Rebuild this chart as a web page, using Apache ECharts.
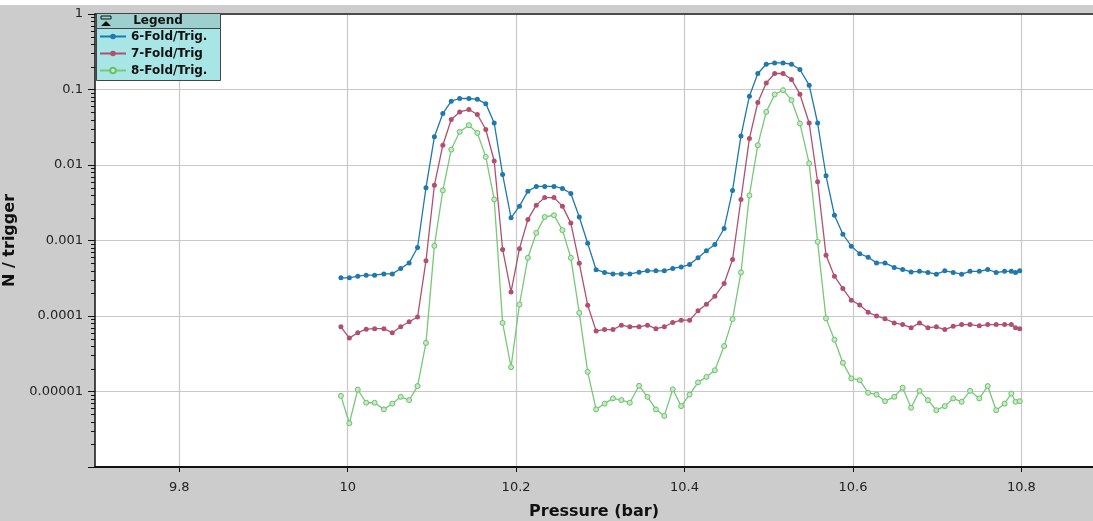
<!DOCTYPE html>
<html>
<head>
<meta charset="utf-8">
<script src="https://cdn.jsdelivr.net/npm/echarts@6/dist/echarts.min.js"></script>
<style>html,body{margin:0;padding:0;background:#cccccc;}#c{width:1093px;height:521px;}</style>
</head>
<body>
<div id="c"></div>
<script>
// Pressure (bar) of each measurement
const pressure = [9.992,10.002,10.012,10.022,10.032,10.043,10.053,10.063,10.073,10.083,
10.093,10.103,10.113,10.123,10.133,10.144,10.154,10.164,10.174,10.184,
10.194,10.204,10.214,10.224,10.234,10.245,10.255,10.265,10.275,10.285,
10.295,10.305,10.315,10.325,10.335,10.346,10.356,10.366,10.376,10.386,
10.396,10.406,10.416,10.426,10.436,10.447,10.457,10.467,10.477,10.487,
10.497,10.507,10.517,10.527,10.537,10.548,10.558,10.568,10.578,10.588,
10.598,10.608,10.618,10.628,10.638,10.649,10.659,10.669,10.679,10.689,
10.699,10.709,10.719,10.729,10.739,10.750,10.760,10.770,10.780,10.788,
10.793,10.798];

const fold6 = [3.2e-4,3.2e-4,3.37e-4,3.47e-4,3.47e-4,3.61e-4,3.61e-4,4.26e-4,5.05e-4,8.07e-4,
5.0e-3,0.0236,0.048,0.070,0.076,0.076,0.074,0.065,0.036,0.0075,
0.0020,0.00285,0.0045,0.0052,0.0052,0.0052,0.0049,0.0042,0.00205,9.2e-4,
4.1e-4,3.77e-4,3.61e-4,3.61e-4,3.61e-4,3.8e-4,3.96e-4,3.96e-4,3.96e-4,4.26e-4,
4.47e-4,4.8e-4,5.9e-4,7.3e-4,8.85e-4,1.44e-3,4.6e-3,0.0243,0.0815,0.163,
0.216,0.225,0.225,0.216,0.184,0.114,0.036,0.0072,0.00216,0.00121,
8.4e-4,6.7e-4,6.0e-4,5.05e-4,5.05e-4,4.4e-4,4.13e-4,3.84e-4,3.9e-4,3.77e-4,
3.58e-4,3.96e-4,3.77e-4,3.58e-4,3.9e-4,3.9e-4,4.13e-4,3.77e-4,3.9e-4,3.9e-4,
3.77e-4,3.96e-4];

const fold7 = [7.2e-5,5.1e-5,6.0e-5,6.7e-5,6.8e-5,6.8e-5,6.0e-5,7.2e-5,8.4e-5,9.7e-5,
5.4e-4,5.4e-3,0.0183,0.040,0.0505,0.0543,0.0467,0.0295,0.0113,7.6e-4,
2.08e-4,7.8e-4,1.9e-3,2.94e-3,3.7e-3,3.7e-3,2.85e-3,1.7e-3,5.0e-4,1.39e-4,
6.35e-5,6.6e-5,6.6e-5,7.55e-5,7.2e-5,7.2e-5,7.55e-5,6.8e-5,7.2e-5,8.2e-5,
8.8e-5,8.8e-5,1.17e-4,1.43e-4,1.83e-4,2.69e-4,5.6e-4,3.49e-3,0.0224,0.0673,
0.122,0.163,0.163,0.136,0.0867,0.036,0.006,6.4e-4,3.37e-4,2.31e-4,
1.62e-4,1.4e-4,1.12e-4,1.0e-4,9.2e-5,8.1e-5,7.7e-5,7.0e-5,8.1e-5,7.0e-5,
7.2e-5,6.6e-5,7.3e-5,7.7e-5,7.7e-5,7.4e-5,7.7e-5,7.7e-5,7.7e-5,7.7e-5,
7.0e-5,6.8e-5];

const fold8 = [8.75e-6,3.8e-6,1.06e-5,7.1e-6,7.1e-6,5.8e-6,6.9e-6,8.5e-6,7.7e-6,1.18e-5,
4.4e-5,8.5e-4,4.6e-3,0.016,0.0275,0.0337,0.0266,0.0128,3.5e-3,8.1e-5,
2.1e-5,1.42e-4,5.9e-4,1.26e-3,2.05e-3,2.16e-3,1.37e-3,5.9e-4,1.1e-4,1.82e-5,
5.8e-6,6.9e-6,8.1e-6,7.7e-6,7.1e-6,1.19e-5,8.5e-6,5.8e-6,4.75e-6,1.07e-5,
6.4e-6,9.1e-6,1.32e-5,1.56e-5,1.91e-5,4.0e-5,9.1e-5,3.77e-4,3.95e-3,0.0183,
0.0505,0.0859,0.098,0.0722,0.0355,0.0105,9.6e-4,9.3e-5,4.85e-5,2.4e-5,
1.49e-5,1.41e-5,9.6e-6,9.1e-6,7.45e-6,8.5e-6,1.12e-5,6.1e-6,1.02e-5,7.7e-6,
5.65e-6,6.4e-6,8.1e-6,7.3e-6,1.02e-5,8.1e-6,1.18e-5,5.65e-6,6.9e-6,9.4e-6,
7.3e-6,7.45e-6];

const seriesNames = ['6-Fold/Trig.', '7-Fold/Trig', '8-Fold/Trig.'];
const xTicks = [9.8, 10, 10.2, 10.4, 10.6, 10.8];
const yTicks = [1e-6, 1e-5, 1e-4, 1e-3, 1e-2, 1e-1, 1];

// log minor ticks (2..9 in every decade)
const minorTicks = [];
for (let e = -6; e < 0; e++) for (let m = 2; m <= 9; m++) minorTicks.push(m * Math.pow(10, e));

const X_MIN = 9.7, X_MAX = 10.885;
const FONT = 'DejaVu Sans';

const chart = echarts.init(document.getElementById('c'), null, {renderer: 'canvas'});

function mk(vals) { return pressure.map((p, i) => [p, vals[i]]); }

const baseGraphic = [
  {type: 'rect', shape: {x: 0, y: 0, width: 1093, height: 5}, style: {fill: '#ffffff'}, z: 1},
  {type: 'rect', shape: {x: 96.5, y: 13.5, width: 124, height: 67}, style: {fill: 'rgba(153,226,226,0.85)', stroke: '#444', lineWidth: 1}, z: 5},
  {type: 'rect', shape: {x: 96.5, y: 13.5, width: 124, height: 15}, style: {fill: '#9dcfcf', stroke: '#444', lineWidth: 1}, z: 5},
  {type: 'rect', shape: {x: 101, y: 16, width: 10, height: 3}, style: {fill: 'none', stroke: '#111', lineWidth: 1}, z: 6},
  {type: 'polygon', shape: {points: [[101, 26], [111, 26], [106, 21]]}, style: {fill: '#111'}, z: 6},
  {type: 'text', style: {x: 158, y: 21, text: 'Legend', fill: '#111', font: 'bold 12px "DejaVu Sans"', align: 'center', verticalAlign: 'middle'}, z: 6}
];

const option = {
  animation: false,
  backgroundColor: '#cccccc',
  grid: {left: 95, right: 0, top: 14, bottom: 54, show: true, backgroundColor: '#ffffff', borderWidth: 0,
         outerBoundsMode: 'none', containLabel: false},
  legend: {
    data: seriesNames, orient: 'vertical', left: 99, top: 30, padding: 0, itemGap: 4,
    itemWidth: 26, itemHeight: 7, z: 6,
    textStyle: {fontFamily: FONT, fontWeight: 'bold', fontSize: 12, color: '#111', lineHeight: 13}
  },
  xAxis: [{
    type: 'value', min: X_MIN, max: X_MAX,
    name: 'Pressure (bar)', nameLocation: 'middle', nameGap: 37,
    nameTextStyle: {fontFamily: FONT, fontWeight: 'bold', fontSize: 16, color: '#111'},
    axisLine: {show: true, onZero: false, lineStyle: {color: '#111', width: 2}},
    axisTick: {show: true, length: 5, customValues: xTicks, lineStyle: {color: '#111'}},
    axisLabel: {customValues: xTicks, margin: 14, fontFamily: FONT, fontSize: 13, color: '#222',
      formatter: v => String(Math.round(v * 10) / 10)},
    splitLine: {show: true, lineStyle: {color: '#c8c8c8', width: 1.2}}
  }, {
    type: 'value', min: X_MIN, max: X_MAX, position: 'top',
    axisLine: {show: true, onZero: false, lineStyle: {color: '#222', width: 1.5}},
    axisTick: {show: false}, axisLabel: {show: false}, splitLine: {show: false}
  }],
  yAxis: {
    type: 'log', logBase: 10, min: 1e-6, max: 1,
    name: 'N / trigger', nameLocation: 'middle', nameGap: 75,
    nameTextStyle: {fontFamily: FONT, fontWeight: 'bold', fontSize: 16, color: '#111'},
    axisLine: {show: true, lineStyle: {color: '#111', width: 1.5}},
    axisTick: {show: true, length: 7, lineStyle: {color: '#111'}},
    axisLabel: {margin: 12, fontFamily: FONT, fontSize: 13, color: '#222',
      formatter: v => {
        if (v < 5e-6) return '';
        const e = Math.round(Math.log10(v));
        return e >= 0 ? '1' : Number(v).toFixed(-e);
      }},
    splitLine: {show: true, lineStyle: {color: '#c8c8c8', width: 1.2}}
  },
  series: [
    {name: seriesNames[0], type: 'line', data: mk(fold6), symbol: 'circle', symbolSize: 5,
     lineStyle: {color: '#1f78ae', width: 1.3}, itemStyle: {color: '#1f78ae'}, z: 4},
    {name: seriesNames[1], type: 'line', data: mk(fold7), symbol: 'circle', symbolSize: 5,
     lineStyle: {color: '#b0506f', width: 1.3}, itemStyle: {color: '#b0506f'}, z: 3},
    {name: seriesNames[2], type: 'line', data: mk(fold8), symbol: 'circle', symbolSize: 5,
     lineStyle: {color: '#78c878', width: 1.3}, itemStyle: {color: '#c4ecc4', borderColor: '#6cc06c', borderWidth: 1}, z: 2}
  ],
  graphic: baseGraphic
};
chart.setOption(option);

// minor log ticks placed through the chart's own y scale
const tickGraphic = minorTicks.map(v => {
  const p = chart.convertToPixel({xAxisIndex: 0, yAxisIndex: 0}, [X_MIN, v]);
  return {type: 'line', shape: {x1: p[0] - 4, y1: Math.round(p[1]) + 0.5, x2: p[0], y2: Math.round(p[1]) + 0.5},
          style: {stroke: '#111', lineWidth: 1}, z: 7};
});
chart.setOption({graphic: baseGraphic.concat(tickGraphic)});
</script>
</body>
</html>
